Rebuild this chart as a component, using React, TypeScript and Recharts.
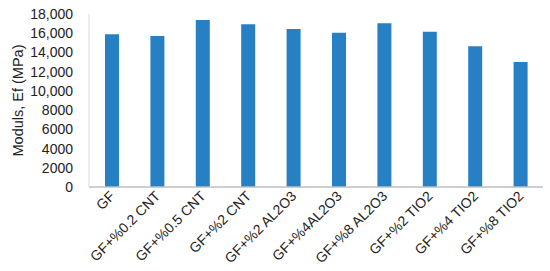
import { BarChart, Bar, XAxis, YAxis } from 'recharts'

const categories = ['GF', 'GF+%0.2 CNT', 'GF+%0.5 CNT', 'GF+%2 CNT', 'GF+%2 AL2O3', 'GF+%4AL2O3', 'GF+%8 AL2O3', 'GF+%2 TIO2', 'GF+%4 TIO2', 'GF+%8 TIO2']
const modulus = [15890, 15710, 17380, 16930, 16440, 16060, 17030, 16160, 14640, 13000]
const yTicks = [0, 2000, 4000, 6000, 8000, 10000, 12000, 14000, 16000, 18000]

const data = categories.map((name, i) => ({ name, v: modulus[i] }))
const font = "'Liberation Sans', Arial, sans-serif"

const fmtY = (v: number) => (v >= 10000 ? v.toLocaleString('en-US') : String(v))

const XTick = ({ x, y, payload }: any) => (
  <text x={0} y={0} transform={`translate(${x - 3},${y - 5}) rotate(-45)`} textAnchor="end" dy="0.71em" fontSize={14} fontFamily={font} fill="#222">
    {payload.value}
  </text>
)

export default function App() {
  return (
    <div style={{ position: 'absolute', left: 0, top: 0, width: 550, height: 271, background: '#fff' }}>
      <BarChart width={550} height={271} data={data} margin={{ top: 14, right: 7, bottom: 0, left: 0 }}>
        <XAxis dataKey="name" interval={0} height={84} tick={<XTick />} tickLine={false} axisLine={{ stroke: '#bfbfbf', strokeWidth: 1.5 }} />
        <YAxis
          domain={[0, 18000]}
          ticks={yTicks}
          interval={0}
          width={89}
          tickFormatter={fmtY}
          tickLine={false}
          tickSize={0}
          tickMargin={16}
          axisLine={{ stroke: '#d9d9d9' }}
          tick={{ fontSize: 14, fontFamily: font, fill: '#222' }}
          label={{ value: 'Moduls, Ef (MPa)', angle: -90, position: 'center', dx: -27, style: { fontSize: 14.5, fontFamily: font, fill: '#222' } }}
        />
        <Bar dataKey="v" fill="#2880c4" barSize={14} isAnimationActive={false} />
      </BarChart>
    </div>
  )
}
